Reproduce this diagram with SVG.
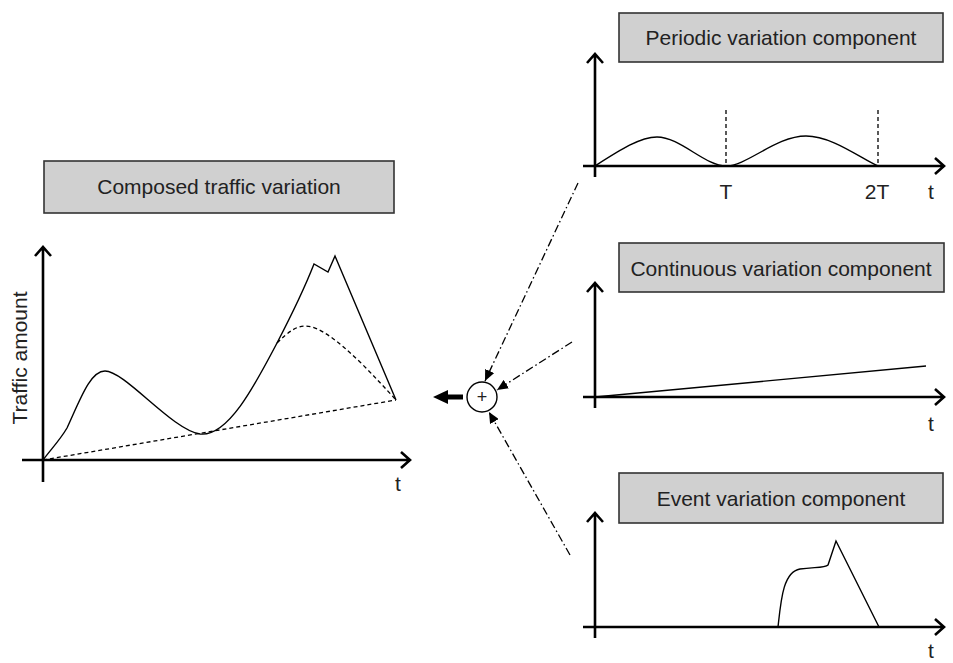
<svg xmlns="http://www.w3.org/2000/svg" width="953" height="663" viewBox="0 0 953 663">
  <style>
    .box { fill: #d0d0d0; stroke: #333; stroke-width: 1.6; }
    .title { font-family: "Liberation Sans", Arial, sans-serif; font-size: 21px; fill: #222; text-anchor: middle; }
    .lbl { font-family: "Liberation Sans", Arial, sans-serif; font-size: 21px; fill: #222; text-anchor: middle; }
    .axis { fill: none; stroke: #000; stroke-width: 2.6; }
    .curve { fill: none; stroke: #000; stroke-width: 1.4; stroke-linejoin: miter; }
    .dash { fill: none; stroke: #000; stroke-width: 1.3; stroke-dasharray: 4 3; }
    .link { fill: none; stroke: #000; stroke-width: 1.3; stroke-dasharray: 8 3 1.5 3; }
  </style>
  <defs>
    <marker id="tri" markerUnits="userSpaceOnUse" markerWidth="11" markerHeight="10" refX="11" refY="5" orient="auto">
      <path d="M0,0 L11,5 L0,10 z" fill="#000"/>
    </marker>
  </defs>

  <rect width="953" height="663" fill="#fff"/>

  <!-- composed chart -->
  <g id="composed">
    <rect class="box" x="44" y="161" width="350" height="52"/>
    <text class="title" x="219" y="194">Composed traffic variation</text>
    <text class="lbl" transform="translate(27,358) rotate(-90)">Traffic amount</text>
    <path class="axis" d="M43,482 L43,247 M35,256 L43,247 L51,256"/>
    <path class="axis" d="M22,460 L410,460 M401,452 L410,460 L401,468"/>
    <text class="lbl" x="398" y="491">t</text>
    <path class="dash" d="M43,460 L396,400"/>
    <path class="dash" d="M277,343 C289,331 297,326 305,326 C320,326 340,343 360,362 C374,376 387,390 396,400"/>
    <path class="curve" d="M43,460 C52,448 60,440 67,428 C80,400 90,371 105,371 C125,371 172,430 200,434 C228,437 255,385 277,343 C290,318 303,292 314,264 L328,272 L335,256 L396,400"/>
  </g>

  <!-- summing node -->
  <g id="sum">
    <circle cx="482" cy="397" r="15" fill="#fff" stroke="#000" stroke-width="1.4"/>
    <text x="482" y="403" font-family="'Liberation Sans', Arial, sans-serif" font-size="18" text-anchor="middle" fill="#222">+</text>
    <rect x="446" y="394.5" width="17" height="5" fill="#000"/>
    <path d="M433,397 L448,390 L448,404 z" fill="#000"/>
  </g>

  <!-- periodic component -->
  <g id="periodic">
    <rect class="box" x="619" y="13" width="324" height="49"/>
    <text class="title" x="781" y="45">Periodic variation component</text>
    <path class="axis" d="M595,177 L595,54 M587,63 L595,54 L603,63"/>
    <path class="axis" d="M583,166 L944,166 M935,158 L944,166 L935,174"/>
    <path class="dash" d="M726,110 L726,166 M878,110 L878,166"/>
    <path class="curve" d="M595,166 C620,150 640,137 657,137 C680,137 705,166 726,166 C747,166 776,136 806,136 C832,136 860,158 878,166"/>
    <text class="lbl" x="726" y="199">T</text>
    <text class="lbl" x="877" y="199">2T</text>
    <text class="lbl" x="931" y="199">t</text>
  </g>

  <!-- continuous component -->
  <g id="continuous">
    <rect class="box" x="619" y="243" width="325" height="49"/>
    <text class="title" x="781" y="276">Continuous variation component</text>
    <path class="axis" d="M595,408 L595,283 M587,292 L595,283 L603,292"/>
    <path class="axis" d="M583,397 L944,397 M935,389 L944,397 L935,405"/>
    <path class="curve" d="M595,397 L926,366"/>
    <text class="lbl" x="931" y="431">t</text>
  </g>

  <!-- event component -->
  <g id="event">
    <rect class="box" x="619" y="473" width="324" height="50"/>
    <text class="title" x="781" y="506">Event variation component</text>
    <path class="axis" d="M595,638 L595,513 M587,522 L595,513 L603,522"/>
    <path class="axis" d="M583,627 L944,627 M935,619 L944,627 L935,635"/>
    <path class="curve" d="M778,627 C781,600 783,572 800,569 C815,567 825,568 828,565 L836,541 L879,627"/>
    <text class="lbl" x="931" y="658">t</text>
  </g>

  <!-- connectors into the summing node -->
  <g id="connectors">
    <path class="link" d="M578,183 L485,381" marker-end="url(#tri)"/>
    <path class="link" d="M572,342 L497,390" marker-end="url(#tri)"/>
    <path class="link" d="M570,555 L489,412" marker-end="url(#tri)"/>
  </g>
</svg>
